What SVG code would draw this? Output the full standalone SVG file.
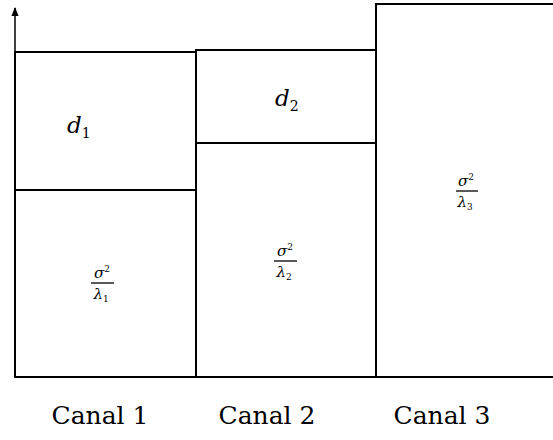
<svg xmlns="http://www.w3.org/2000/svg" width="553" height="440" viewBox="0 0 553 440">
<defs>
<style>
.box{fill:none;stroke:#000;stroke-width:2}
.ax{stroke:#000;stroke-width:1.5;fill:none}
.lbl{font-family:'DejaVu Serif','Liberation Serif',serif;font-size:25px;text-anchor:middle;fill:#000}
.d{font-family:'DejaVu Serif','Liberation Serif',serif;font-style:italic;font-size:23px;fill:#000}
.sub{font-style:normal;font-size:14px}
.fr{font-family:'DejaVu Serif','Liberation Serif',serif;font-style:italic;font-size:15px;text-anchor:middle;fill:#000}
.frs{font-style:normal;font-size:9px}
</style>
<marker id="arr" viewBox="0 0 10 10" refX="9" refY="5" markerWidth="6" markerHeight="6" orient="auto">
<path d="M0,1 L10,5 L0,9 Z" fill="#000"/>
</marker>
</defs>
<rect width="553" height="440" fill="#fff"/>
<g id="connectors">
<line class="ax" x1="15" y1="52" x2="15" y2="8" marker-end="url(#arr)"/>
</g>
<g id="canal1">
<rect class="box" x="15" y="52" width="181" height="325"/>
<line class="box" x1="15" y1="190" x2="196" y2="190"/>
<text class="d" x="67" y="133">d<tspan class="sub" dy="5">1</tspan></text>
<text class="fr" x="102" y="278">σ<tspan class="frs" dy="-6">2</tspan></text>
<line stroke="#000" stroke-width="1.3" x1="91" y1="283" x2="114" y2="283"/>
<text class="fr" x="101" y="299">λ<tspan class="frs" dy="3">1</tspan></text>
<text class="lbl" x="100" y="424">Canal 1</text>
</g>
<g id="canal2">
<rect class="box" x="196" y="50" width="180" height="327"/>
<line class="box" x1="196" y1="143" x2="376" y2="143"/>
<text class="d" x="275" y="106">d<tspan class="sub" dy="5">2</tspan></text>
<text class="fr" x="285" y="256">σ<tspan class="frs" dy="-6">2</tspan></text>
<line stroke="#000" stroke-width="1.3" x1="274" y1="261" x2="297" y2="261"/>
<text class="fr" x="284" y="277">λ<tspan class="frs" dy="3">2</tspan></text>
<text class="lbl" x="267" y="424">Canal 2</text>
</g>
<g id="canal3">
<path class="box" d="M376,377 V4 H553"/>
<line class="box" x1="376" y1="377" x2="553" y2="377"/>
<text class="fr" x="466" y="186">σ<tspan class="frs" dy="-6">2</tspan></text>
<line stroke="#000" stroke-width="1.3" x1="456" y1="191" x2="478" y2="191"/>
<text class="fr" x="465" y="207">λ<tspan class="frs" dy="3">3</tspan></text>
<text class="lbl" x="442" y="424">Canal 3</text>
</g>
</svg>
